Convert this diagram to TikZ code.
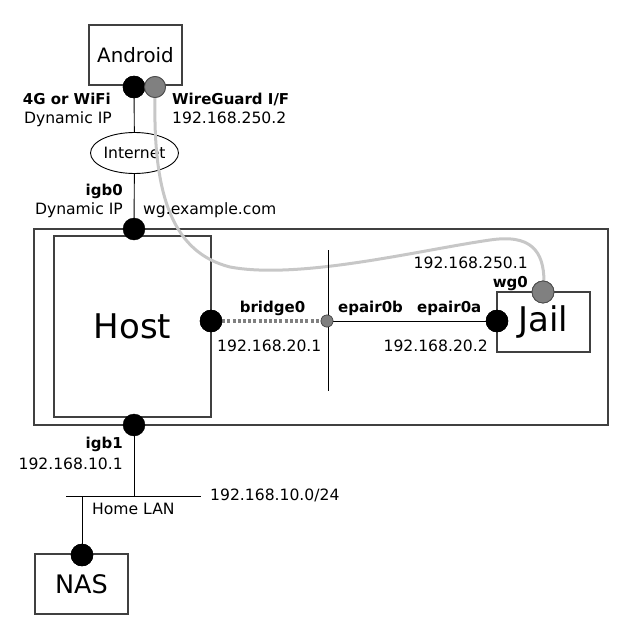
\documentclass[tikz,border=0pt]{standalone}
\usepackage{fontspec}
\setmainfont{DejaVu Sans}
\usetikzlibrary{shapes.geometric}
\begin{document}
\begin{tikzpicture}[x=1pt,y=-1pt,
  box/.style={draw=black!75, line width=1.2pt, rectangle, inner sep=0pt},
  bdot/.style={circle, fill=black, draw=black, inner sep=0pt, minimum size=22pt},
  gdot/.style={circle, fill=black!50, draw=black!70, line width=0.8pt, inner sep=0pt, minimum size=21pt},
  sdot/.style={circle, fill=black!50, draw=black!70, line width=0.6pt, inner sep=0pt, minimum size=12pt},
  lbl/.style={inner sep=0pt, font=\fontsize{15.6}{18}\selectfont},
  blbl/.style={inner sep=0pt, font=\fontsize{15}{18}\selectfont\bfseries},
  wire/.style={draw=black, line width=0.9pt},
  tunnel/.style={draw=black!22, line width=3pt},
  bridgeline/.style={draw=black!50, line width=3.5pt, dash pattern=on 3pt off 2.2pt}
]
\useasboundingbox (0,0) rectangle (640,640);

% boxes
\node[box, minimum width=574pt, minimum height=196pt] (outer) at (321,327) {};
\node[box, minimum width=157pt, minimum height=181pt, font=\fontsize{34}{40}\selectfont] (host) at (132.5,326.5) {Host};
\node[box, minimum width=93pt, minimum height=60pt, font=\fontsize{19.8}{24}\selectfont] (android) at (135.5,55) {Android};
\node[box, minimum width=93pt, minimum height=60pt, font=\fontsize{34}{40}\selectfont] (jail) at (543.5,322) {Jail};
\node[box, minimum width=93pt, minimum height=60pt, font=\fontsize{25.5}{30}\selectfont] (nas) at (81.5,584) {NAS};
\node[ellipse, draw=black, line width=0.9pt, inner sep=0pt, minimum width=88pt, minimum height=41pt, font=\fontsize{15.6}{18}\selectfont] (internet) at (134.5,153) {Internet};

% tunnel curve
\coordinate (tA) at (155,98);
\coordinate (tB) at (544,282);
\draw[tunnel] (tA) .. controls (153,200) and (175,253) .. (230,267)
  .. controls (300,280) and (420,250) .. (490,240)
  .. controls (530,234) and (544,250) .. (tB);

% coordinates for wires
\coordinate (brtop) at (328,250);
\coordinate (brbot) at (328,391);
\coordinate (lanT) at (134,496);
\coordinate (lanL) at (66,496);
\coordinate (lanR) at (201,496);
\coordinate (lanN) at (82,496);

% ports
\node[bdot] (a0) at (134,87) {};
\node[gdot] (a1) at (155,87) {};
\node[bdot] (h0) at (134,229) {};
\node[bdot] (h1) at (211,321) {};
\node[sdot] (br) at (327,321) {};
\node[bdot] (j0) at (497,321) {};
\node[gdot, minimum size=22pt] (wg) at (543,292) {};
\node[bdot] (h2) at (134,425) {};
\node[bdot] (n0) at (82,555) {};

% wires
\draw[wire] (a0) -- (internet);
\draw[wire] (internet) -- (h0);
\draw[wire] (brtop) -- (brbot);
\draw[bridgeline] (h1.east) -- (br.west);
\draw[wire] (br) -- (j0);
\draw[wire] (h2) -- (lanT);
\draw[wire] (lanL) -- (lanR);
\draw[wire] (lanN) -- (n0);

% redraw ports on top
\node[bdot] at (a0) {};
\node[gdot] at (a1) {};
\node[bdot] at (h1) {};
\node[sdot] at (br) {};
\node[bdot] at (j0) {};
\node[gdot, minimum size=22pt] at (wg) {};
\node[bdot] at (n0) {};

% labels
\node[blbl, anchor=base east] (l1) at (111,104) {4G or WiFi};
\node[lbl, anchor=base east] (l2) at (112,123.5) {Dynamic IP};
\node[blbl, anchor=base west] (l3) at (172,104) {WireGuard I/F};
\node[lbl, anchor=base west] (l4) at (172,123.5) {192.168.250.2};
\node[blbl, anchor=base east] (l5) at (123,195) {igb0};
\node[lbl, anchor=base east] (l6) at (123,214.5) {Dynamic IP};
\node[lbl, anchor=base west] (l7) at (143,214.5) {wg.example.com};
\node[blbl, anchor=base] (l8) at (272.5,312) {bridge0};
\node[blbl, anchor=base west] (l9) at (338,312) {epair0b};
\node[blbl, anchor=base west] (l10) at (417,312) {epair0a};
\node[lbl, anchor=base west] (l11) at (217,351) {192.168.20.1};
\node[lbl, anchor=base east] (l12) at (488,351) {192.168.20.2};
\node[lbl, anchor=base east] (l13) at (528,268) {192.168.250.1};
\node[blbl, anchor=base east] (l14) at (528,287) {wg0};
\node[blbl, anchor=base east] (l15) at (123,448) {igb1};
\node[lbl, anchor=base east] (l16) at (123,469) {192.168.10.1};
\node[lbl, anchor=base west] (l17) at (210,500) {192.168.10.0/24};
\node[lbl, anchor=base west] (l18) at (92,514) {Home LAN};
\end{tikzpicture}
\end{document}
